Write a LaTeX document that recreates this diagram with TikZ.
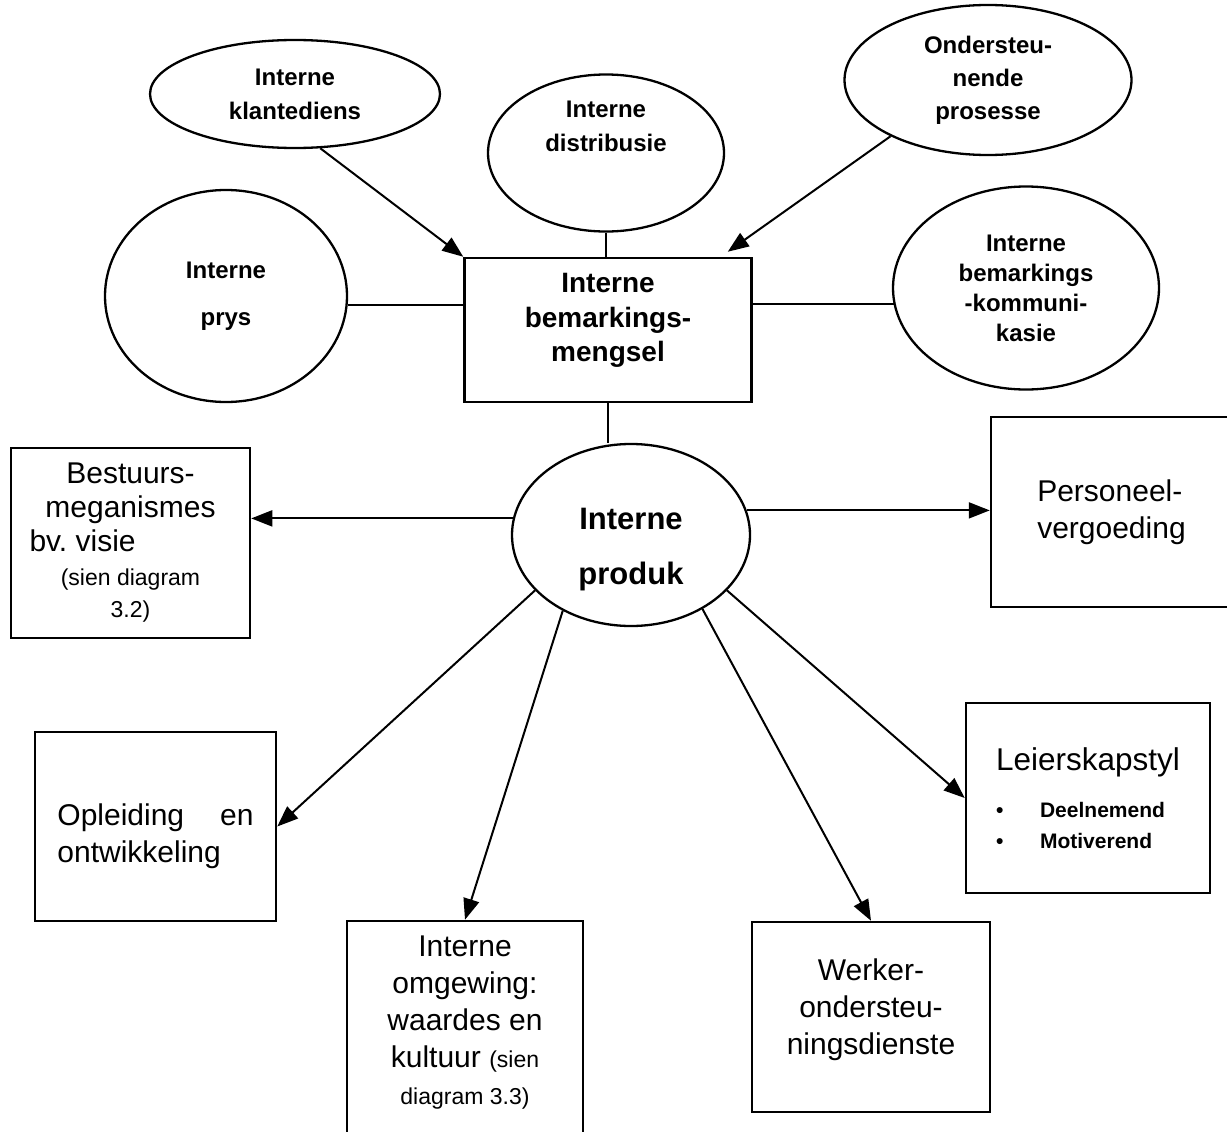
\documentclass[tikz,border=0pt]{standalone}
\usepackage{fontspec}
\setmainfont{Liberation Sans}
\usetikzlibrary{shapes.geometric,arrows.meta,calc}
% invisible struts that pad a text block below or above
\newcommand\padlow[1]{\rule[-#1]{0pt}{#1}}
\newcommand\padhigh[1]{\rule{0pt}{#1}}
\begin{document}
\begin{tikzpicture}[x=1pt,y=-1pt,
  oval/.style={ellipse,draw,line width=2.3pt,inner sep=0pt,align=center,
    font=\bfseries\fontsize{24}{34}\selectfont},
  panel/.style={rectangle,draw,line width=2.5pt,inner sep=0pt,align=center,
    font=\fontsize{30}{37}\selectfont},
  link/.style={line width=2pt},
  arr/.style={link,-{Triangle[length=21pt,width=16pt]}}
]
\useasboundingbox (0,0) rectangle (1227,1132);

% marketing-mix elements around the central box
\node[oval,minimum width=290pt,minimum height=108pt] (kl) at (295,94)
  {Interne\\klantediens};
\node[oval,minimum width=236pt,minimum height=157pt] (dist) at (606,153)
  {Interne\\distribusie\padlow{53pt}};
\node[oval,minimum width=287pt,minimum height=150pt,
  font=\bfseries\fontsize{24}{33}\selectfont] (ond) at (988,80)
  {Ondersteu-\\nende\\prosesse};
\node[oval,minimum width=242pt,minimum height=212pt,
  font=\bfseries\fontsize{24}{47}\selectfont] (prys) at (226,296)
  {Interne\\prys};
\node[oval,minimum width=266pt,minimum height=203pt,
  font=\bfseries\fontsize{24}{30}\selectfont] (komm) at (1026,288)
  {Interne\\bemarkings\\-kommuni-\\kasie};

\node[panel,minimum width=287pt,minimum height=144pt,
  font=\bfseries\fontsize{28}{34.5}\selectfont] (mix) at (608,330)
  {Interne\\bemarkings-\\mengsel\padlow{25pt}};

% internal product and what it drives
\node[oval,minimum width=238pt,minimum height=182pt,
  font=\bfseries\fontsize{31}{55}\selectfont] (produk) at (631,535)
  {\padhigh{50pt}Interne\\produk};

\node[panel,minimum width=239pt,minimum height=190pt,
  font=\fontsize{30}{34}\selectfont] (bestuur) at (130.5,543)
  {Bestuurs-\\meganismes\\\makebox[202pt][l]{bv.\ visie}\\
   {\fontsize{23}{32}\selectfont(sien diagram}\\[-2pt]
   {\fontsize{23}{32}\selectfont 3.2)}};
\node[panel,minimum width=241pt,minimum height=190pt,align=left] (pers) at (1111.5,512)
  {Personeel-\\vergoeding};
\node[panel,minimum width=241pt,minimum height=189pt,align=left] (opl) at (155.5,826.5)
  {\padhigh{42pt}Opleiding\hspace{36pt}en\\ontwikkeling};
\node[panel,minimum width=244pt,minimum height=190pt,align=left,
  font=\fontsize{31.5}{37}\selectfont] (leier) at (1088,798)
  {Leierskapstyl\\[10pt]
   {\bfseries\fontsize{21}{31}\selectfont\makebox[44pt][l]{\textbullet}Deelnemend}\\[-6pt]
   {\bfseries\fontsize{21}{31}\selectfont\makebox[44pt][l]{\textbullet}Motiverend}};
\node[panel,minimum width=236pt,minimum height=229pt] (omg) at (465,1035.5)
  {Interne\\omgewing:\\waardes en\\kultuur {\fontsize{23}{32}\selectfont(sien}\\
   {\fontsize{23}{32}\selectfont diagram 3.3)}\padlow{30pt}};
\node[panel,minimum width=238pt,minimum height=190pt] (werk) at (871,1017)
  {Werker-\\ondersteu-\\ningsdienste\padlow{20pt}};

% connectors of the marketing mix
\draw[arr] (kl.295) -- (mix.north west);
\draw[link] (dist.south) -- (dist.south |- mix.north);
\draw[arr] (ond.210) -- ($(mix.north east)+(-25,-5)$);
\draw[link] (prys.-4) -- (prys.-4 -| mix.west);
\draw[link] (komm.187) -- (komm.187 -| mix.east);
\draw[link] (mix.south) -- (mix.south |- produk.north);

% connectors from the internal product
\draw[arr] (produk.172) -- (produk.172 -| bestuur.east);
\draw[arr] (produk.12) -- (produk.12 -| pers.west);
\draw[arr] (produk.210) -- (opl.east);
\draw[arr] (produk.228) -- (omg.north);
\draw[arr] (produk.314) -- (werk.north);
\draw[arr] (produk.330) -- (leier.west);
\end{tikzpicture}
\end{document}
